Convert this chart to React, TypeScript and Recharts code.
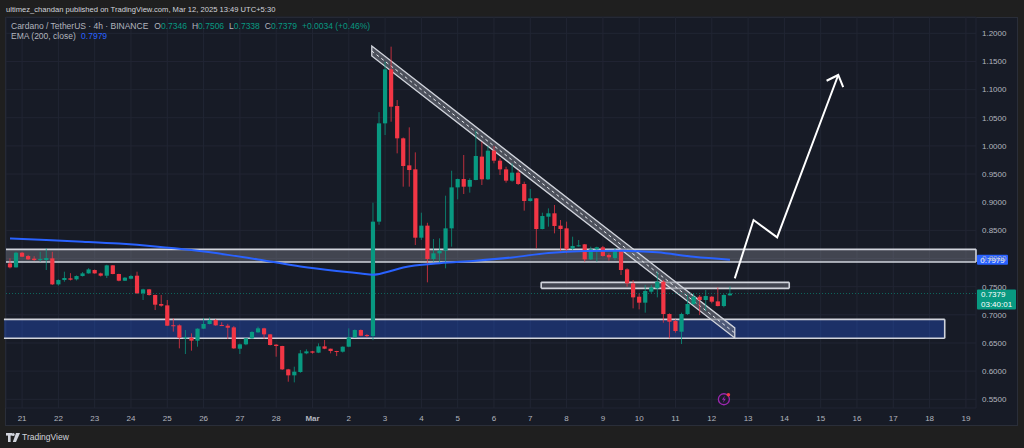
import React from 'react';
import {
  ComposedChart, Bar, Line, XAxis, YAxis, CartesianGrid,
  ReferenceArea, ReferenceLine, ReferenceDot,
} from 'recharts';

// ---- 4h candles, Feb 20 16:00 -> Mar 12 12:00 (index 1..120) ----
const opens = [
  0.7914, 0.7843, 0.8103, 0.8044, 0.7997, 0.7980, 0.7973, 0.8003, 0.7541, 0.7618,
  0.7648, 0.7630, 0.7689, 0.7736, 0.7796, 0.7736, 0.7695, 0.7879, 0.7725, 0.7606,
  0.7642, 0.7695, 0.7381, 0.7452, 0.7352, 0.7192, 0.7168, 0.6815, 0.6813, 0.6594,
  0.6594, 0.6541, 0.6754, 0.6837, 0.6908, 0.6819, 0.6807, 0.6777, 0.6398, 0.6476,
  0.6582, 0.6689, 0.6760, 0.6653, 0.6470, 0.6446, 0.6031, 0.5925, 0.5984, 0.6316,
  0.6351, 0.6328, 0.6440, 0.6398, 0.6357, 0.6345, 0.6434, 0.6600, 0.6730, 0.6641,
  0.6623, 0.8655, 1.0401, 1.1360, 1.0709, 1.0135, 0.9655, 0.9584, 0.8370, 0.8584,
  0.7991, 0.8092, 0.8140, 0.8536, 0.9264, 0.9412, 0.9276, 0.9395, 0.9810, 0.9407,
  0.9916, 0.9738, 0.9584, 0.9383, 0.9525, 0.9324, 0.9022, 0.9069, 0.8524, 0.8743,
  0.8803, 0.8584, 0.8536, 0.8175, 0.8226, 0.8252, 0.7985, 0.8163, 0.8199, 0.8063,
  0.8009, 0.8140, 0.7808, 0.7559, 0.7322, 0.7216, 0.7411, 0.7470, 0.7588, 0.7014,
  0.6890, 0.6700, 0.7014, 0.7192, 0.7322, 0.7263, 0.7322, 0.7239, 0.7156, 0.7346,
];
const highs = [
  0.8003, 0.8120, 0.8115, 0.8065, 0.8040, 0.8120, 0.8180, 0.8120, 0.7630, 0.7766,
  0.7740, 0.7700, 0.7760, 0.7830, 0.7805, 0.7750, 0.7890, 0.7885, 0.7730, 0.7670,
  0.7710, 0.7766, 0.7464, 0.7460, 0.7360, 0.7352, 0.7263, 0.6937, 0.6830, 0.6730,
  0.6671, 0.6760, 0.6944, 0.6955, 0.6925, 0.6870, 0.6840, 0.6800, 0.6490, 0.6590,
  0.6710, 0.6790, 0.6770, 0.6660, 0.6480, 0.6450, 0.6040, 0.6079, 0.6375, 0.6387,
  0.6360, 0.6493, 0.6553, 0.6400, 0.6360, 0.6440, 0.6760, 0.6740, 0.6740, 0.6660,
  0.8992, 1.0600, 1.1496, 1.1763, 1.0815, 1.0150, 1.0330, 0.9886, 0.8814, 0.8635,
  0.8347, 0.8359, 0.9116, 0.9560, 0.9420, 0.9839, 0.9425, 1.0271, 1.0075, 0.9999,
  0.9999, 0.9780, 0.9630, 0.9691, 0.9572, 0.9365, 0.9235, 0.9075, 0.8814, 0.8891,
  0.8951, 0.8684, 0.8655, 0.8388, 0.8329, 0.8258, 0.8211, 0.8211, 0.8223, 0.8092,
  0.8181, 0.8163, 0.7826, 0.7618, 0.7381, 0.7529, 0.7529, 0.7766, 0.7618, 0.7026,
  0.6920, 0.7038, 0.7352, 0.7381, 0.7352, 0.7440, 0.7334, 0.7488, 0.7370, 0.7506,
];
const lows = [
  0.7825, 0.7838, 0.8025, 0.7975, 0.7960, 0.7944, 0.7796, 0.7529, 0.7520, 0.7588,
  0.7610, 0.7610, 0.7680, 0.7730, 0.7730, 0.7680, 0.7654, 0.7720, 0.7595, 0.7600,
  0.7630, 0.7375, 0.7263, 0.7340, 0.7085, 0.7144, 0.6801, 0.6701, 0.6404, 0.6304,
  0.6363, 0.6434, 0.6750, 0.6830, 0.6805, 0.6800, 0.6570, 0.6395, 0.6304, 0.6460,
  0.6575, 0.6680, 0.6576, 0.6455, 0.6256, 0.6020, 0.5812, 0.5800, 0.5970, 0.6300,
  0.6310, 0.6320, 0.6390, 0.6316, 0.6268, 0.6330, 0.6425, 0.6590, 0.6620, 0.6600,
  0.6550, 0.8600, 1.0194, 1.0430, 0.9868, 0.9276, 0.9276, 0.8240, 0.8330, 0.7577,
  0.7944, 0.7926, 0.7826, 0.8211, 0.9051, 0.9146, 0.9170, 0.9390, 0.9306, 0.9395,
  0.9691, 0.9483, 0.9347, 0.9365, 0.9306, 0.8850, 0.9010, 0.8181, 0.8518, 0.8566,
  0.8447, 0.8122, 0.8092, 0.8152, 0.8211, 0.7944, 0.7973, 0.7944, 0.8033, 0.7962,
  0.7974, 0.7707, 0.7500, 0.7115, 0.7097, 0.7038, 0.7381, 0.7310, 0.6860, 0.6582,
  0.6683, 0.6481, 0.6997, 0.7174, 0.6997, 0.7074, 0.7204, 0.7150, 0.7133, 0.7338,
];
const closes = [
  0.7843, 0.8103, 0.8032, 0.7985, 0.7973, 0.7990, 0.8009, 0.7541, 0.7618, 0.7654,
  0.7624, 0.7689, 0.7736, 0.7807, 0.7736, 0.7695, 0.7879, 0.7725, 0.7606, 0.7660,
  0.7689, 0.7381, 0.7452, 0.7352, 0.7180, 0.7162, 0.6807, 0.6810, 0.6594, 0.6600,
  0.6541, 0.6754, 0.6837, 0.6908, 0.6813, 0.6807, 0.6771, 0.6404, 0.6476, 0.6582,
  0.6695, 0.6760, 0.6653, 0.6464, 0.6446, 0.6031, 0.5925, 0.5990, 0.6316, 0.6351,
  0.6328, 0.6440, 0.6398, 0.6357, 0.6345, 0.6434, 0.6600, 0.6730, 0.6629, 0.6623,
  0.8655, 1.0401, 1.1360, 1.0697, 1.0135, 0.9643, 0.9572, 0.8370, 0.8584, 0.7991,
  0.8092, 0.8140, 0.8536, 0.9264, 0.9412, 0.9276, 0.9395, 0.9821, 0.9407, 0.9916,
  0.9738, 0.9584, 0.9383, 0.9525, 0.9324, 0.9022, 0.9069, 0.8524, 0.8755, 0.8803,
  0.8578, 0.8524, 0.8163, 0.8223, 0.8234, 0.7985, 0.8163, 0.8199, 0.8045, 0.8021,
  0.8140, 0.7796, 0.7559, 0.7310, 0.7216, 0.7423, 0.7488, 0.7588, 0.7014, 0.6878,
  0.6712, 0.7014, 0.7192, 0.7322, 0.7263, 0.7334, 0.7233, 0.7156, 0.7352, 0.7379,
];

// EMA(200) at selected candles
const emaIndex = [1, 7, 13, 19, 25, 31, 37, 43, 49, 55, 59, 61, 63, 66, 72, 78, 84, 90, 96, 102, 108, 114, 120];
const emaValue = [0.8357, 0.8330, 0.8300, 0.8265, 0.8215, 0.8150, 0.8065, 0.7965, 0.7860, 0.7780, 0.7735, 0.7712, 0.7750, 0.7840, 0.7915, 0.7960, 0.8020, 0.8100, 0.8135, 0.8140, 0.8110, 0.8030, 0.7979];

// axes
const dayTicks = [3, 9, 15, 21, 27, 33, 39, 45, 51, 57, 63, 69, 75, 81, 87, 93, 99, 105, 111, 117, 123, 129, 135, 141, 147, 153, 159];
const dayLabels = ['21', '22', '23', '24', '25', '26', '27', '28', 'Mar', '2', '3', '4', '5', '6', '7', '8', '9', '10', '11', '12', '13', '14', '15', '16', '17', '18', '19'];
const priceTicks = [0.55, 0.6, 0.65, 0.7, 0.75, 0.8, 0.85, 0.9, 0.95, 1.0, 1.05, 1.1, 1.15, 1.2];
const xDomain: [number, number] = [0.34, 160.67];
const yDomain: [number, number] = [0.5345, 1.229];

// drawings
const resistanceZone = [0.7938, 0.8163];
const retestZoneX = [88.8, 129.8];
const retestZoneY = [0.7470, 0.7577];
const supportZoneX = [0, 155.5];
const supportZoneY = [0.6583, 0.6920];
const channelX = [60.8, 120.8];
const channelUpper = [1.1774, 0.6767];
const channelLower = [1.1597, 0.6589];
const projectionX = [120.8, 123.9, 127.8, 137.9];
const projectionY = [0.7648, 0.8684, 0.8377, 1.1260];
const lastClose = 0.7379;
const lastEma = 0.7979;
const eventIndex = 119;
const eventLevel = 0.55;

const GREEN = '#089981';
const RED = '#f23645';
const BLUE = '#2962ff';
const EDGE = '#d1d4dc';
const BG = '#171b26';

const emaMap = new Map<number, number>();
emaIndex.forEach((k, j) => emaMap.set(k, emaValue[j]));

const data = opens.map((o, k) => ({
  i: k + 1,
  open: o,
  high: highs[k],
  low: lows[k],
  close: closes[k],
  range: [lows[k], highs[k]],
  ema: emaMap.has(k + 1) ? emaMap.get(k + 1) : null,
}));

const Candle = (props: any) => {
  const { x, y, width, height, payload } = props;
  if (!payload || height == null) return null;
  const { open, close, high, low } = payload;
  const cx = x + width / 2;
  const span = high - low;
  const ratio = span > 0 ? height / span : 0;
  const yOf = (p: number) => y + (high - p) * ratio;
  const up = close >= open;
  const color = up ? GREEN : RED;
  const top = yOf(Math.max(open, close));
  const bot = yOf(Math.min(open, close));
  const bw = 4.2;
  return (
    <g>
      <line x1={cx} x2={cx} y1={y} y2={y + height} stroke={color} strokeWidth={1} strokeOpacity={0.75} />
      <rect x={cx - bw / 2} y={top} width={bw} height={Math.max(1, bot - top)} fill={color} />
    </g>
  );
};

const zoneShape = (fill: string, left: boolean, right: boolean) => (p: any) => {
  const { x, y, width, height } = p;
  if (x == null) return null;
  return (
    <g>
      <rect x={x} y={y} width={width} height={height} fill={fill} />
      <line x1={x} x2={x + width} y1={y} y2={y} stroke={EDGE} strokeWidth={1.6} />
      <line x1={x} x2={x + width} y1={y + height} y2={y + height} stroke={EDGE} strokeWidth={1.6} />
      {left && <line x1={x} x2={x} y1={y} y2={y + height} stroke={EDGE} strokeWidth={1.6} />}
      {right && <line x1={x + width} x2={x + width} y1={y} y2={y + height} stroke={EDGE} strokeWidth={1.6} />}
    </g>
  );
};

const mapper = (p: any, xr: number[], yr: number[]) => {
  const { x, y, width, height } = p;
  const x0 = Math.min(...xr), x1 = Math.max(...xr);
  const y0 = Math.min(...yr), y1 = Math.max(...yr);
  return {
    px: (t: number) => x + ((t - x0) / (x1 - x0)) * width,
    py: (v: number) => y + ((y1 - v) / (y1 - y0)) * height,
  };
};

const ChannelShape = (p: any) => {
  if (p.x == null) return null;
  const { px, py } = mapper(p, channelX, [...channelUpper, ...channelLower]);
  const ul = [px(channelX[0]), py(channelUpper[0])];
  const ur = [px(channelX[1]), py(channelUpper[1])];
  const lr = [px(channelX[1]), py(channelLower[1])];
  const ll = [px(channelX[0]), py(channelLower[0])];
  const ml = [(ul[0] + ll[0]) / 2, (ul[1] + ll[1]) / 2];
  const mr = [(ur[0] + lr[0]) / 2, (ur[1] + lr[1]) / 2];
  const pts = [ul, ur, lr, ll].map((q) => q.join(',')).join(' ');
  return (
    <g>
      <polygon points={pts} fill="rgba(120,123,134,0.55)" stroke={EDGE} strokeWidth={1.3} />
      <line x1={ml[0]} y1={ml[1]} x2={mr[0]} y2={mr[1]} stroke="#e8eaef" strokeWidth={1} strokeDasharray="3 3" />
    </g>
  );
};

const ProjectionShape = (p: any) => {
  if (p.x == null) return null;
  const { px, py } = mapper(p, projectionX, projectionY);
  const pts = projectionX.map((t, k) => [px(t), py(projectionY[k])]);
  const n = pts.length;
  const tip = pts[n - 1];
  const prev = pts[n - 2];
  const dx = tip[0] - prev[0], dy = tip[1] - prev[1];
  const len = Math.hypot(dx, dy);
  const bx = -dx / len, by = -dy / len;
  const th = (43 * Math.PI) / 180;
  const L = 13;
  const w1 = [tip[0] + L * (bx * Math.cos(th) - by * Math.sin(th)), tip[1] + L * (bx * Math.sin(th) + by * Math.cos(th))];
  const w2 = [tip[0] + L * (bx * Math.cos(-th) - by * Math.sin(-th)), tip[1] + L * (bx * Math.sin(-th) + by * Math.cos(-th))];
  return (
    <g fill="none" stroke="#ffffff" strokeWidth={2} strokeLinejoin="miter">
      <polyline points={pts.map((q) => q.join(',')).join(' ')} />
      <polyline points={`${w1.join(',')} ${tip.join(',')} ${w2.join(',')}`} />
    </g>
  );
};

const EventMarker = (p: any) => {
  const { cx, cy } = p;
  if (cx == null) return null;
  return (
    <g>
      <circle cx={cx} cy={cy} r={5.5} fill="#1b1a2c" stroke="#9c27b0" strokeWidth={1.3} />
      <path d={`M${cx + 1} ${cy - 3.5} L${cx - 2} ${cy + 0.5} L${cx} ${cy + 0.5} L${cx - 1} ${cy + 3.5} L${cx + 2} ${cy - 0.5} L${cx} ${cy - 0.5} Z`} fill="#9c27b0" />
      <circle cx={cx + 4.5} cy={cy - 4.5} r={1.8} fill={RED} />
    </g>
  );
};

const DayTick = (props: any) => {
  const { x, y, payload } = props;
  const k = dayTicks.indexOf(payload.value);
  const label = dayLabels[k] ?? '';
  return (
    <text x={x} y={y + 13} textAnchor="middle" fill="#b2b5be" fontSize={8} fontWeight={label === 'Mar' ? 700 : 400}>
      {label}
    </text>
  );
};

const emaLabel = (props: any) => {
  const vb = props.viewBox;
  if (!vb) return null;
  const x = vb.x + vb.width + 1;
  return (
    <g>
      <rect x={x} y={vb.y - 5} width={31} height={10} fill={BLUE} rx={1} />
      <text x={x + 15.5} y={vb.y + 3} textAnchor="middle" fill="#ffffff" fontSize={8}>{lastEma.toFixed(4)}</text>
    </g>
  );
};

const priceLabel = (props: any) => {
  const vb = props.viewBox;
  if (!vb) return null;
  const x = vb.x + vb.width + 1;
  return (
    <g>
      <rect x={x} y={vb.y - 4} width={39} height={20} fill={GREEN} rx={1} />
      <text x={x + 4} y={vb.y + 4} fill="#ffffff" fontSize={8}>{lastClose.toFixed(4)}</text>
      <text x={x + 4} y={vb.y + 13.5} fill="#ffffff" fontSize={8}>03:40:01</text>
    </g>
  );
};

export default function App() {
  const font = '"Liberation Sans", Arial, sans-serif';
  return (
    <div style={{ position: 'relative', width: 1024, height: 448, background: '#1f1f1f', fontFamily: font, overflow: 'hidden' }}>
      <style>{'html,body{margin:0;padding:0;background:#1f1f1f;}'}</style>
      <div style={{ position: 'absolute', left: 6, top: 4, fontSize: 7.6, color: '#d1d4dc', whiteSpace: 'nowrap', lineHeight: '12px' }}>
        ultimez_chandan published on TradingView.com, Mar 12, 2025 13:49 UTC+5:30
      </div>
      <div style={{ position: 'absolute', left: 5, top: 17, width: 1011, height: 407, background: BG, border: '1px solid #2a2e39' }} />
      <div style={{ position: 'absolute', left: 0, top: 0 }}>
        <ComposedChart width={1024} height={448} data={data} margin={{ top: 17, right: 7, bottom: 23, left: 6 }}>
          <CartesianGrid stroke="#212533" strokeWidth={1} />
          <XAxis
            type="number" dataKey="i" domain={xDomain} allowDataOverflow ticks={dayTicks}
            axisLine={false} tickLine={false} tickSize={0} tickMargin={0} height={17}
            tick={<DayTick />} interval={0}
          />
          <YAxis
            orientation="right" type="number" domain={yDomain} allowDataOverflow ticks={priceTicks}
            axisLine={false} tickLine={false} tickSize={0} tickMargin={6} width={41}
            tickFormatter={(v: number) => v.toFixed(4)} tick={{ fill: '#b2b5be', fontSize: 8 }} interval={0}
          />
          <ReferenceArea x1={xDomain[0]} x2={xDomain[1]} y1={resistanceZone[0]} y2={resistanceZone[1]}
            shape={zoneShape('rgba(120,123,134,0.45)', false, true)} ifOverflow="hidden" />
          <ReferenceArea x1={supportZoneX[0]} x2={supportZoneX[1]} y1={supportZoneY[0]} y2={supportZoneY[1]}
            shape={zoneShape('rgba(41,98,255,0.3)', false, true)} ifOverflow="hidden" />
          <ReferenceArea x1={retestZoneX[0]} x2={retestZoneX[1]} y1={retestZoneY[0]} y2={retestZoneY[1]}
            shape={zoneShape('rgba(120,123,134,0.45)', true, true)} />
          <ReferenceLine y={lastClose} stroke={GREEN} strokeOpacity={0.6} strokeDasharray="1 2" label={priceLabel} />
          <Bar dataKey="range" barSize={4} shape={<Candle />} isAnimationActive={false} />
          <Line dataKey="ema" type="monotone" connectNulls dot={false} activeDot={false} stroke={BLUE} strokeWidth={2} isAnimationActive={false} />
          <ReferenceLine y={lastEma} stroke="none" label={emaLabel} />
          <ReferenceArea x1={channelX[0]} x2={channelX[1]} y1={Math.min(...channelLower)} y2={Math.max(...channelUpper)}
            shape={<ChannelShape />} />
          <ReferenceArea x1={projectionX[0]} x2={projectionX[projectionX.length - 1]} y1={Math.min(...projectionY)} y2={Math.max(...projectionY)}
            shape={<ProjectionShape />} />
          <ReferenceDot x={eventIndex} y={eventLevel} shape={<EventMarker />} />
        </ComposedChart>
      </div>
      <div style={{ position: 'absolute', left: 11, top: 21, fontSize: 8.5, color: '#b2b5be', whiteSpace: 'nowrap', lineHeight: '10px' }}>
        <span>Cardano / TetherUS · 4h · BINANCE</span>
        <span style={{ marginLeft: 6 }}>O<span style={{ color: GREEN }}>0.7346</span></span>
        <span style={{ marginLeft: 5 }}>H<span style={{ color: GREEN }}>0.7506</span></span>
        <span style={{ marginLeft: 5 }}>L<span style={{ color: GREEN }}>0.7338</span></span>
        <span style={{ marginLeft: 5 }}>C<span style={{ color: GREEN }}>0.7379</span></span>
        <span style={{ marginLeft: 5, color: GREEN }}>+0.0034 (+0.46%)</span>
      </div>
      <div style={{ position: 'absolute', left: 11, top: 31, fontSize: 8.5, color: '#b2b5be', whiteSpace: 'nowrap', lineHeight: '10px' }}>
        EMA (200, close) <span style={{ color: BLUE, marginLeft: 3 }}>0.7979</span>
      </div>
      <div style={{ position: 'absolute', left: 6, top: 432, display: 'flex', alignItems: 'center', color: '#d1d4dc', fontSize: 8.5 }}>
        <svg width={14} height={9} viewBox="0 0 14 9">
          <rect x={0} y={0} width={6} height={2.6} fill="#d1d4dc" />
          <rect x={2} y={0} width={2.6} height={9} fill="#d1d4dc" />
          <circle cx={7.2} cy={1.6} r={1.5} fill="#d1d4dc" />
          <path d="M10 0 L14 0 L10 9 L6.8 9 Z" fill="#d1d4dc" />
        </svg>
        <span style={{ marginLeft: 2 }}>TradingView</span>
      </div>
    </div>
  );
}
